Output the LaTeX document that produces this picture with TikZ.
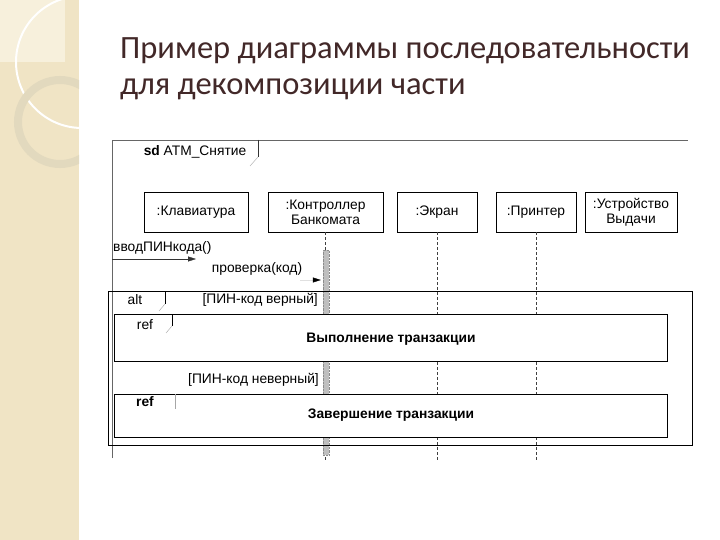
\documentclass[tikz,border=0pt]{standalone}
\usepackage{fontspec}
\setmainfont{Liberation Sans}
\newfontfamily\titlefont{Carlito}
\usetikzlibrary{arrows.meta}

\definecolor{stripbg}{RGB}{240,228,197}
\definecolor{stripfg}{RGB}{247,240,220}
\definecolor{ringcol}{RGB}{226,217,190}
\definecolor{titlecol}{RGB}{66,40,40}

\begin{document}
\begin{tikzpicture}[x=1pt,y=-1pt,>={Triangle[length=8pt,width=5pt]},
  head/.style={draw,thin,minimum height=40pt,align=center,inner sep=0pt,
    font=\fontsize{13.8}{15}\selectfont},
  lbl/.style={inner sep=0pt,font=\fontsize{13.8}{15}\selectfont},
  boldlbl/.style={lbl,font=\fontsize{13.8}{15}\selectfont\bfseries},
  life/.style={densely dashed,thin,black!75},
  frm/.style={line width=0.9pt}]
  \useasboundingbox (0,0) rectangle (720,540);
  % slide background with the left strip
  \fill[white] (0,0) rectangle (720,540);
  \fill[stripbg] (0,0) rectangle (79,540);
  \begin{scope}
    \clip (0,0) rectangle (79,540);
    \fill[stripfg] (0,0) rectangle (65,62);
    \draw[white,line width=2pt] (82,62) circle (66);
    \draw[ringcol,line width=8pt] (60,122) circle (42);
  \end{scope}
  % title
  \node[anchor=base west,inner sep=0pt,text=titlecol,font=\titlefont\fontsize{32.5}{38}\selectfont]
    (title1) at (120,59) {Пример диаграммы последовательности};
  \node[anchor=base west,inner sep=0pt,text=titlecol,font=\titlefont\fontsize{32.5}{38}\selectfont]
    (title2) at (120,95) {для декомпозиции части};
  % sd frame
  \draw[black!60] (112,458) -- (112,140) -- (688,140);
  \draw[black!80] (258,140) -- (258,157);
  \draw[black!35] (258,157) -- (250,166);
  \node[lbl] (sdtag) at (195,152) {\textbf{sd} ATM\_Снятие};
  % lifeline heads
  \node[head,minimum width=104pt] (kbd) at (196,212) {:Клавиатура};
  \node[head,minimum width=115pt] (ctrl) at (325.5,212) {:Контроллер\\Банкомата};
  \node[head,minimum width=80pt] (scr) at (437,212) {:Экран};
  \node[head,minimum width=80pt] (prn) at (536,212) {:Принтер};
  \node[head,minimum width=92pt] (disp) at (631,212) {:Устройство\\Выдачи};
  % lifelines
  \coordinate (bot) at (0,460);
  \foreach \n in {ctrl,scr,prn}{
    \draw[life] (\n.south) -- (\n.south |- bot);
  }
  \node[draw=black!45,densely dotted,fill=black!25,minimum width=6pt,minimum height=205pt,
    inner sep=0pt,anchor=north] (act) at (326,250) {};
  % messages
  \coordinate (gate) at (112,259);
  \coordinate (pin) at (196,259);
  \draw[->,black!80] (gate) -- (pin);
  \node[lbl,anchor=south west] (pinlbl) at (113,255) {вводПИНкода()};
  \coordinate (chk) at (300,280);
  \draw[-{Triangle[length=8pt,width=5pt,color=black]},black!12] (chk) -- ([xshift=-2pt]chk -| act.west);
  \node[lbl] (chklbl) at (257,269) {проверка(код)};
  % alt fragment
  \draw[frm] (108,291) rectangle (692,445);
  \draw (165,291) -- (165,304);
  \draw[black!35] (165,304) -- (159,311);
  \node[lbl] (alttag) at (135,300) {alt};
  \node[lbl,anchor=east] (guard1) at (318,300) {[ПИН-код верный]};
  \node[lbl,anchor=east] (guard2) at (319,380) {[ПИН-код неверный]};
  % ref 1
  \draw[frm,fill=white] (114,314) rectangle (667,361);
  \draw (172,314) -- (172,326);
  \draw[black!35] (172,326) -- (166,333);
  \node[lbl] (reftag1) at (145,325) {ref};
  \node[boldlbl] (ref1) at (391,339) {Выполнение транзакции};
  % ref 2
  \draw[frm,fill=white] (114,394) rectangle (667,437);
  \draw[black!35] (175,394) -- (175,409);
  \node[boldlbl] (reftag2) at (145,402) {ref};
  \node[boldlbl] (ref2) at (391,415) {Завершение транзакции};
\end{tikzpicture}
\end{document}
